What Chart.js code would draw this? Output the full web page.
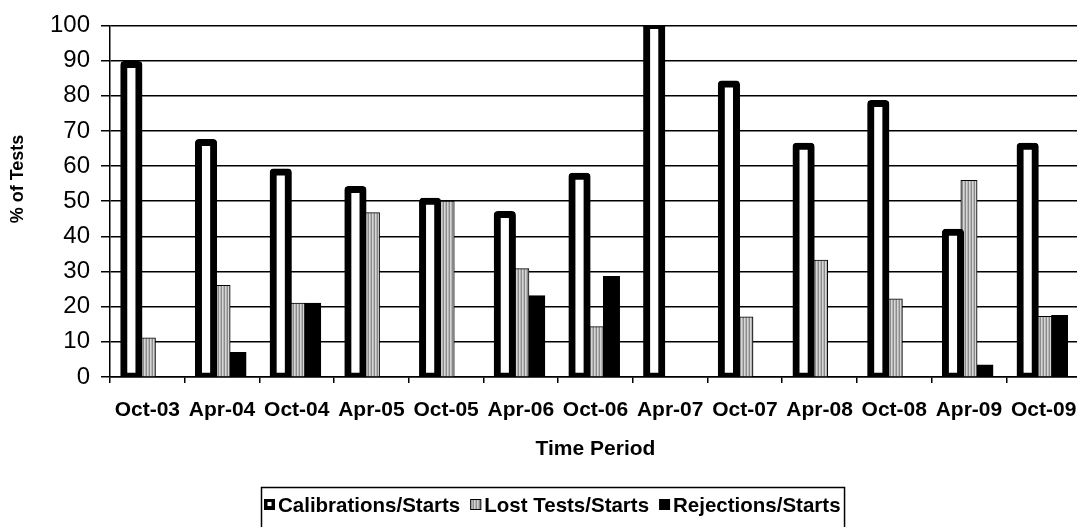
<!doctype html>
<html>

<head>
    <title>% of Tests</title>
    <script src="https://cdn.jsdelivr.net/npm/chart.js"></script>
    <style>
        body { margin: 0; background: #fff; overflow: hidden; }
    </style>
</head>

<body>

    <canvas id="grafico" width="1082" height="527"></canvas>

    <script>
        // dados
        var periodos = ['Oct-03', 'Apr-04', 'Oct-04', 'Apr-05', 'Oct-05', 'Apr-06', 'Oct-06',
            'Apr-07', 'Oct-07', 'Apr-08', 'Oct-08', 'Apr-09', 'Oct-09'];
        var calibracoes = [88.9, 66.7, 58.3, 53.3, 50, 46.2, 57.1, 100, 83.3, 65.6, 77.8, 41.2, 65.6];
        var testesPerdidos = [11.1, 26, 21, 46.7, 50, 30.8, 14.3, 0, 17.1, 33.2, 22.2, 55.9, 17.2];
        var rejeicoes = [0, 7, 21, 0, 0, 23.1, 28.6, 0, 0, 0, 0, 3.4, 17.5];
        var rotulos = ['Calibrations/Starts', 'Lost Tests/Starts', 'Rejections/Starts'];
        var eixoY = { min: 0, max: 100, passo: 10 };

        var fonte = '"Liberation Sans", Arial, sans-serif';

        // hachura vertical cinza das barras "Lost Tests"
        function listrado(ctx) {
            var c = document.createElement('canvas');
            c.width = 3;
            c.height = 4;
            var g = c.getContext('2d');
            var cores = ['#d6d6d6', '#b6b6b6', '#8c8c8c'];
            for (var i = 0; i < cores.length; i++) {
                g.fillStyle = cores[i];
                g.fillRect(i, 0, 1, 4);
            }
            return ctx.createPattern(c, 'repeat');
        }

        var canvas = document.getElementById('grafico');
        var ctx = canvas.getContext('2d');
        var cinza = listrado(ctx);

        // titulos dos eixos e legenda com moldura
        var extras = {
            id: 'extras',
            afterDraw: function (chart) {
                var c = chart.ctx;
                c.save();
                c.fillStyle = '#000';

                c.font = 'bold 18px ' + fonte;
                c.textAlign = 'center';
                c.textBaseline = 'middle';
                c.save();
                c.translate(18, 179);
                c.rotate(-Math.PI / 2);
                c.fillText('% of Tests', 0, 0);
                c.restore();

                c.font = 'bold 21px ' + fonte;
                c.textBaseline = 'alphabetic';
                var meio = (chart.chartArea.left + chart.chartArea.right) / 2;
                c.fillText('Time Period', meio, 455);

                // legenda
                c.font = 'bold 20.5px ' + fonte;
                c.textAlign = 'left';
                var x = 264, y = 499, lado = 11;
                for (var i = 0; i < rotulos.length; i++) {
                    if (i === 0) {
                        c.fillStyle = '#000';
                        c.fillRect(x, y, lado, lado);
                        c.fillStyle = '#fff';
                        c.fillRect(x + 3.5, y + 3, 4, 4);
                    } else if (i === 1) {
                        c.fillStyle = cinza;
                        c.fillRect(x, y, lado, lado);
                        c.strokeStyle = '#000';
                        c.lineWidth = 1;
                        c.strokeRect(x + 0.5, y + 0.5, lado - 1, lado - 1);
                    } else {
                        c.fillStyle = '#000';
                        c.fillRect(x, y, lado, lado);
                    }
                    c.fillStyle = '#000';
                    c.fillText(rotulos[i], x + lado + 3, 512);
                    x += lado + 3 + c.measureText(rotulos[i]).width + (i < rotulos.length - 1 ? 10 : 0);
                }
                c.strokeStyle = '#000';
                c.lineWidth = 1.5;
                c.strokeRect(261.5, 487.5, x + 4 - 261.5, 60);
                c.restore();
            }
        };

        var grafico = new Chart(ctx, {
            type: 'bar',
            data: {
                labels: periodos,
                datasets: [{
                    label: rotulos[0],
                    data: calibracoes,
                    backgroundColor: '#fff',
                    borderColor: '#000',
                    borderWidth: 7,
                    borderSkipped: false,
                    inflateAmount: 3.5,
                    borderRadius: { topLeft: 4, topRight: 4, bottomLeft: 0, bottomRight: 0 },
                    barPercentage: 0.95
                }, {
                    label: rotulos[1],
                    data: testesPerdidos,
                    backgroundColor: cinza,
                    borderColor: '#000',
                    borderWidth: 1,
                    inflateAmount: 0.5,
                    barPercentage: 1
                }, {
                    label: rotulos[2],
                    data: rejeicoes,
                    backgroundColor: '#000',
                    borderColor: '#000',
                    borderWidth: 1,
                    inflateAmount: 0.5,
                    barPercentage: 1
                }]
            },
            options: {
                responsive: false,
                animation: false,
                events: [],
                layout: { padding: { top: 20, left: 0, right: 1, bottom: 0 } },
                plugins: {
                    legend: { display: false },
                    tooltip: { enabled: false }
                },
                datasets: {
                    bar: { categoryPercentage: 0.642 }
                },
                scales: {
                    x: {
                        grid: {
                            offset: true,
                            drawOnChartArea: false,
                            tickLength: 6,
                            color: '#000',
                            lineWidth: 1.5
                        },
                        border: { color: '#000', width: 1.5 },
                        ticks: {
                            color: '#000',
                            maxRotation: 0,
                            autoSkip: false,
                            padding: 15,
                            font: { family: fonte, size: 21, weight: 'bold' }
                        },
                        afterFit: function (escala) {
                            escala.height = 150;
                            escala.paddingLeft = 0;
                            escala.paddingRight = 0;
                        }
                    },
                    y: {
                        min: eixoY.min,
                        max: eixoY.max,
                        grid: {
                            color: '#000',
                            lineWidth: 1.5,
                            tickLength: 9
                        },
                        border: { color: '#000', width: 1.5 },
                        ticks: {
                            stepSize: eixoY.passo,
                            color: '#000',
                            padding: 11,
                            font: { family: fonte, size: 24 }
                        },
                        afterFit: function (escala) { escala.width = 110; }
                    }
                }
            },
            plugins: [extras]
        });
    </script>
</body>

</html>
